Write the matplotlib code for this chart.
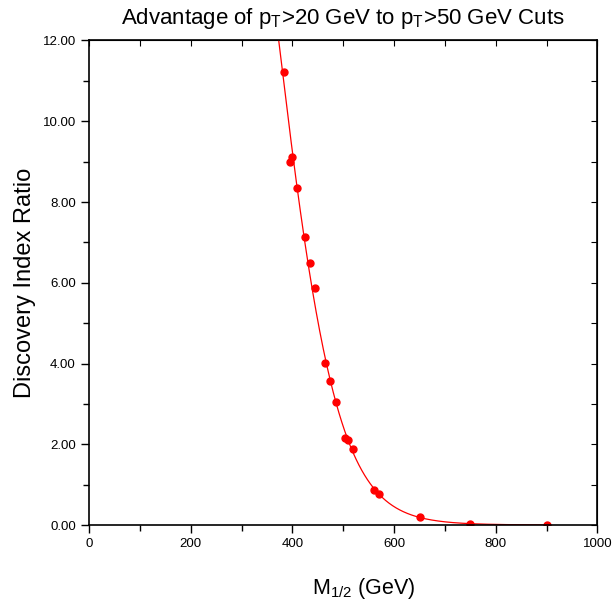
import matplotlib
matplotlib.use("Agg")
import matplotlib.pyplot as plt
from matplotlib.ticker import MultipleLocator, FormatStrFormatter
import numpy as np

plt.rcParams['font.family'] = ['Liberation Sans', 'DejaVu Sans']

# M_1/2 (GeV) and discovery index ratio
m_half = [384, 395, 400, 410, 424, 435, 444, 464, 474, 485,
          504, 509, 519, 560, 570, 650, 750, 900]
ratio = [11.21, 8.99, 9.11, 8.34, 7.14, 6.48, 5.88, 4.02, 3.58, 3.05,
         2.17, 2.10, 1.90, 0.88, 0.78, 0.20, 0.04, 0.0]

x = np.array(m_half, dtype=float)
y = np.array(ratio)

# smooth fit through the points: cubic in log(y)
pos = y > 0
xs = (x[pos] - 600) / 100
c = np.polyfit(xs, np.log(y[pos]), 3)
xf = np.linspace(340, x.max(), 400)
yf = np.exp(np.polyval(c, (xf - 600) / 100))

fig = plt.figure(figsize=(6.13, 6.06), dpi=100)
ax = fig.add_axes([0.1452, 0.1332, 0.8295, 0.8000])

ax.plot(xf, yf, color='red', lw=0.9)
ax.plot(x, y, 'o', color='red', ms=5, mec='red')

ax.set_xlim(0, 1000)
ax.set_ylim(0, 12)
ax.xaxis.set_major_locator(MultipleLocator(200))
ax.xaxis.set_minor_locator(MultipleLocator(100))
ax.yaxis.set_major_locator(MultipleLocator(2))
ax.yaxis.set_minor_locator(MultipleLocator(1))
ax.yaxis.set_major_formatter(FormatStrFormatter('%.2f'))

ax.tick_params(which='both', direction='out', top=False, right=False, labelsize=9.5, width=1)
ax.tick_params(which='major', length=6)
ax.tick_params(which='minor', length=4)
# inward ticks on top and right sides
sec_x = ax.secondary_xaxis('top')
sec_x.xaxis.set_major_locator(MultipleLocator(100))
sec_x.tick_params(direction='in', length=4, labeltop=False)
sec_y = ax.secondary_yaxis('right')
sec_y.yaxis.set_major_locator(MultipleLocator(1))
sec_y.tick_params(direction='in', length=4, labelright=False)

for s in ax.spines.values():
    s.set_linewidth(1.2)

ax.set_title(r'Advantage of p$_\mathregular{T}$>20 GeV to p$_\mathregular{T}$>50 GeV Cuts',
             fontsize=16, pad=12)
ax.set_xlabel(r'M$_\mathregular{1/2}$ (GeV)', fontsize=15.5, labelpad=22)
ax.xaxis.set_label_coords(0.54, -0.105)
ax.set_ylabel('Discovery Index Ratio', fontsize=17, labelpad=5)

fig.savefig('out.png', dpi=100)
